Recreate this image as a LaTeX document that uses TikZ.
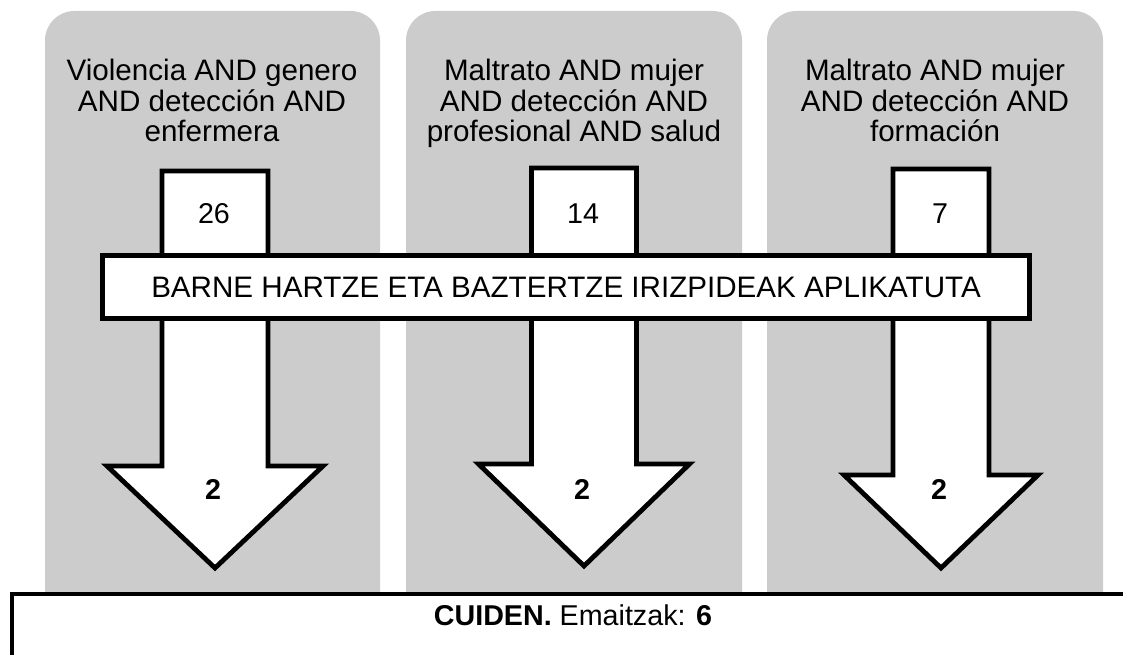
\documentclass[tikz,border=0pt]{standalone}
\usepackage{fontspec}
\setmainfont{Liberation Sans}
\definecolor{panelgray}{HTML}{CCCCCC}
\begin{document}
\begin{tikzpicture}[x=0.75pt, y=-0.75pt,
    panel/.style={fill=panelgray, rounded corners=22pt},
    frame/.style={draw=black, fill=white, line width=3.6pt},
    txt/.style={font=\fontsize{21.5}{22.9}\selectfont, inner sep=0pt},
    bigtxt/.style={font=\fontsize{22.2}{22.9}\selectfont, inner sep=0pt},
  ]
  \useasboundingbox (0,0) rectangle (1123,655);
  \clip (0,0) rectangle (1123,655);

  % grey columns
  \fill[panel] (45,11) rectangle (380,640);
  \fill[panel] (406,11) rectangle (742,640);
  \fill[panel] (767,11) rectangle (1103,640);

  % search strings
  \node[bigtxt, align=center, anchor=base] (title1) at (212,142)
    {Violencia AND genero\\AND detección AND\\enfermera};
  \node[bigtxt, align=center, anchor=base] (title2) at (574,142)
    {Maltrato AND mujer\\AND detección AND\\profesional AND salud};
  \node[bigtxt, align=center, anchor=base] (title3) at (935,142)
    {Maltrato AND mujer\\AND detección AND\\formación};

  % big arrows
  \foreach \cx/\sw/\hw/\ty/\hy/\tp/\num/\i in
    {215/53/108/171/466/568/26/1, 584/52.5/105.5/168/464/566/14/2,
     941/48/97/169/475/568/7/3} {
    \draw[frame] ({\cx-\sw},\ty) -- ({\cx+\sw},\ty) -- ({\cx+\sw},\hy)
      -- ({\cx+\hw},\hy) -- (\cx,\tp) -- ({\cx-\hw},\hy)
      -- ({\cx-\sw},\hy) -- cycle;
    \node[txt, anchor=base] (found\i) at ({\cx-1},224) {\num};
    \node[txt, anchor=base, font=\fontsize{21.5}{22.9}\selectfont\bfseries]
      (kept\i) at ({\cx-2},499) {2};
  }

  % criteria bar
  \node[frame, bigtxt, minimum width=694.9pt, minimum height=46.9pt]
    (criteria) at (566,287) {BARNE HARTZE ETA BAZTERTZE IRIZPIDEAK APLIKATUTA};

  % result box
  \draw[frame] (12,720) -- (12,594) -- (1160,594) -- (1160,720) -- cycle;
  \node[txt, anchor=base] (result) at (573,625)
    {\textbf{CUIDEN.} Emaitzak: \textbf{6}};
\end{tikzpicture}
\end{document}
